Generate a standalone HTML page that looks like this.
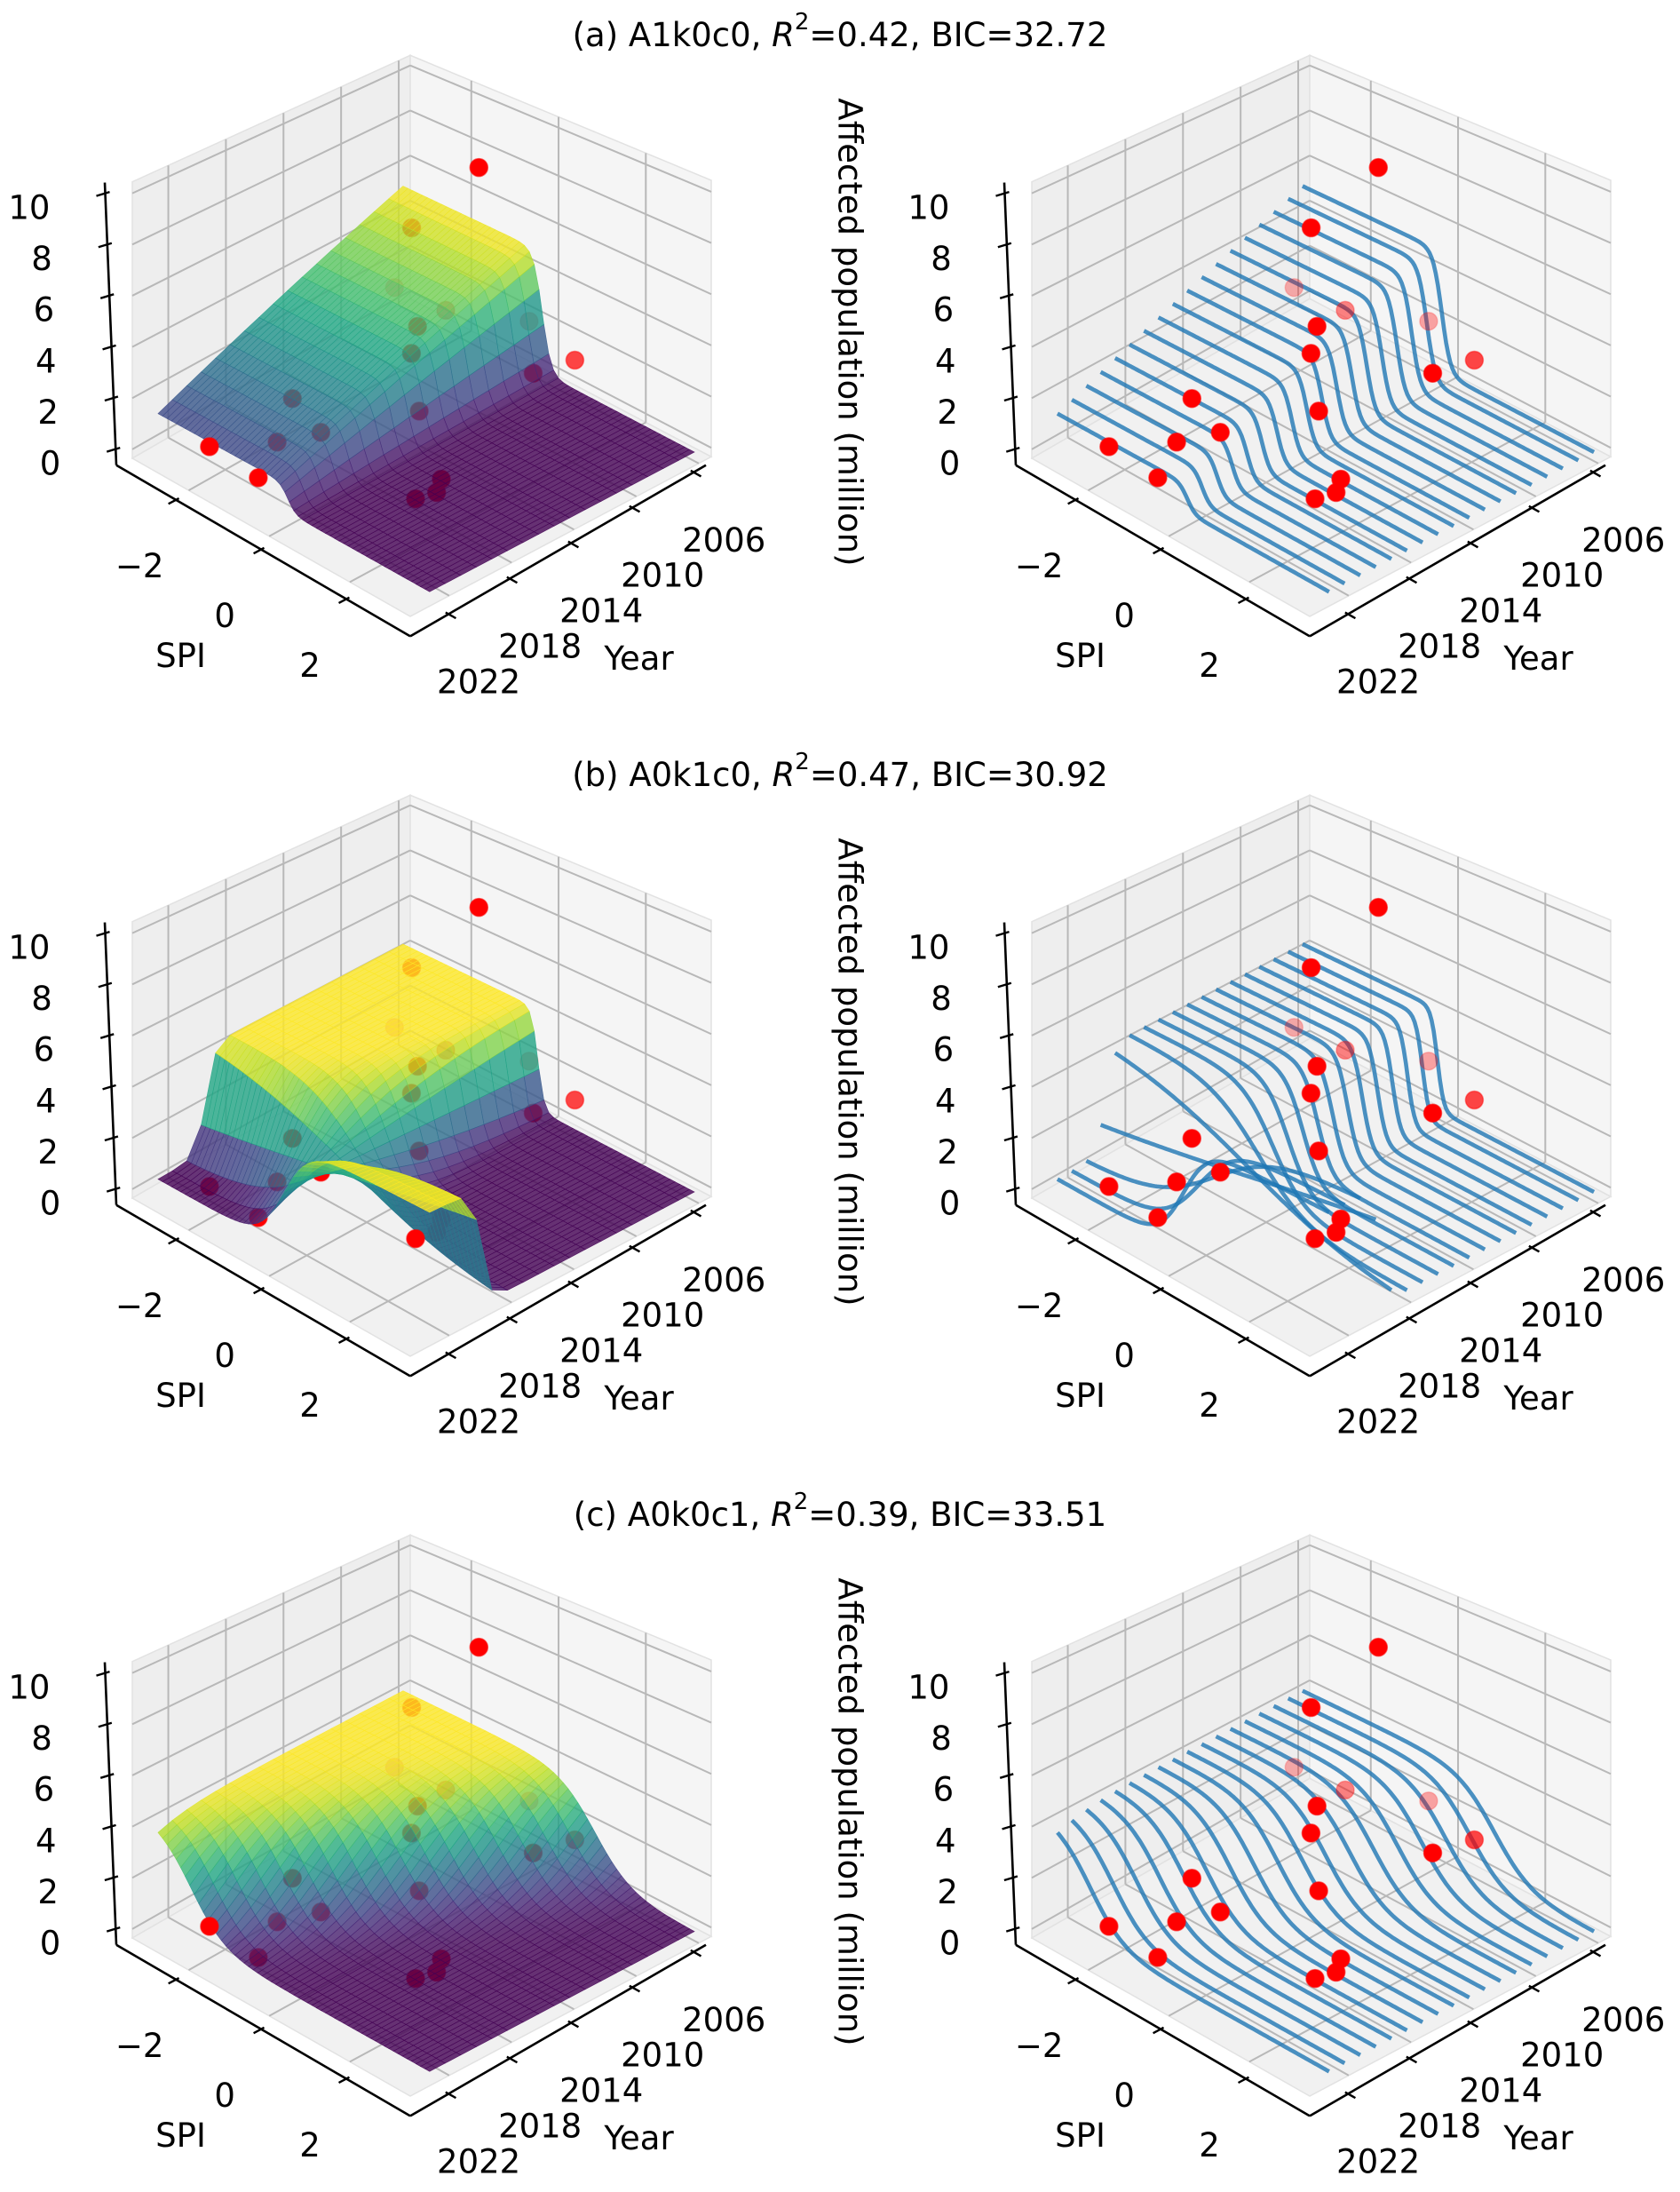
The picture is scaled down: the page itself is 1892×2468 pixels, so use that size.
<!DOCTYPE html>
<html><head><meta charset="utf-8">
<style>
html,body{margin:0;padding:0;background:#fff;}
svg{display:block;}
text{font-family:"DejaVu Sans","Liberation Sans",sans-serif;fill:#000;}
</style></head>
<body>
<svg id="fig" xmlns="http://www.w3.org/2000/svg" width="1892" height="2468" viewBox="0 0 1892 2468">
<rect width="1892" height="2468" fill="#ffffff"/>
</svg>
<script>
// ---------------- data ----------------
const years=[2006,2007,2008,2009,2010,2011,2012,2013,2014,2015,2016,2017,2018,2019,2020,2021,2022,2023];
const obsSPI=[-0.40,1.00,-2.83,-1.30,1.09,0.17,-1.06,-0.57,-0.36,0.18,1.07,1.32,1.18,-0.75,-1.08,-1.09,-1.19,-2.03];
const obsVal=[1.85,1.84,1.69,2.47,2.34,10.07,6.98,3.71,3.12,1.62,0.08,0.10,0.05,1.24,2.57,1.19,0.05,0.83];
// model (a) A1k0c0
const ampA=[5.0,4.77,4.53,4.30,4.06,3.83,3.59,3.36,3.12,2.89,2.65,2.42,2.18,1.95,1.71,1.48,1.24,1.01];
const slopeA=[10,10,10,10,10,10,10,10,10,10,10,10,10,10,10,10,10,10];
const centerA=[-0.1,-0.1,-0.1,-0.1,-0.1,-0.1,-0.1,-0.1,-0.1,-0.1,-0.1,-0.1,-0.1,-0.1,-0.1,-0.1,-0.1,-0.1];
// model (b) A0k1c0
const ampB=[4.2,4.2,4.2,4.2,4.2,4.2,4.2,4.2,4.2,4.2,4.2,4.2,4.2,4.2,4.2,4.2,4.2,4.2];
const slopeB=[13.7,12.7,11.7,10.7,9.7,8.7,7.7,6.7,5.7,4.7,3.7,2.7,1.7,0.7,-0.3,-1.3,-2.3,-3.3];
const centerB=[-0.2,-0.2,-0.2,-0.2,-0.2,-0.2,-0.2,-0.2,-0.2,-0.2,-0.2,-0.2,-0.2,-0.2,-0.2,-0.2,-0.2,-0.2];
// model (c) A0k0c1
const ampC=[3.9,3.9,3.9,3.9,3.9,3.9,3.9,3.9,3.9,3.9,3.9,3.9,3.9,3.9,3.9,3.9,3.9,3.9];
const slopeC=[2.4,2.4,2.4,2.4,2.4,2.4,2.4,2.4,2.4,2.4,2.4,2.4,2.4,2.4,2.4,2.4,2.4,2.4];
const centerC=[1.1,0.89,0.68,0.46,0.25,0.04,-0.17,-0.38,-0.60,-0.81,-1.02,-1.23,-1.44,-1.66,-1.87,-2.08,-2.29,-2.5];
// points drawn above the surface (by year)
const aboveA=[2011,2007,2023,2022];
const aboveB=[2011,2007,2018];
const aboveC=[2011,2023];
const panelTags=["a","b","c"];
const modelNames=["A1k0c0","A0k1c0","A0k0c1"];
const r2Values=["0.42","0.47","0.39"];
const bicValues=["32.72","30.92","33.51"];
const spiTicks=[-2,0,2];
const yearTicks=[2006,2010,2014,2018,2022];
const zTicks=[0,2,4,6,8,10];

// ---------------- projection ----------------
const SPI_MIN=-3.4,SPI_SPAN=6.9,YR_MIN=2005.2,YR_SPAN=19.3,Z_MIN=-0.35,Z_SPAN=10.8;
const SY=0.86,OY0=-4.3;
function ty(oy,v){return oy+SY*v+OY0;}
function projN(ox,oy,u,v,w){
  const t=1-(u+v)/2, H=362*(1.12-0.24*t);
  const x=ox+462+(u-1)*313-(v-1)*339-26*(1-u)*(1-v);
  const y=ty(oy,812+(u-1)*207+(v-1)*209-w*H);
  return [x,y,t-0.6*w];
}
function proj(ox,oy,s,yr,z){
  return projN(ox,oy,(s-SPI_MIN)/SPI_SPAN,(yr-YR_MIN)/YR_SPAN,(z-Z_MIN)/Z_SPAN);
}
const NS="http://www.w3.org/2000/svg";
const svg=document.getElementById("fig");
function mk(tag,attrs,parent){
  const e=document.createElementNS(NS,tag);
  for(const k in attrs)e.setAttribute(k,attrs[k]);
  (parent||svg).appendChild(e);return e;
}
const VIR=["#440154","#482475","#414487","#355f8d","#2a788e","#21918c","#22a884","#44bf70","#7ad151","#bddf26","#fde725"];
function hex2rgb(h){return[parseInt(h.substr(1,2),16),parseInt(h.substr(3,2),16),parseInt(h.substr(5,2),16)];}
const VIRRGB=VIR.map(hex2rgb);
function viridis(f){
  f=Math.max(0,Math.min(1,f));const p=f*10,i=Math.min(9,Math.floor(p)),r=p-i;
  const a=VIRRGB[i],b=VIRRGB[i+1];
  return "rgb("+a.map((c,k)=>Math.round(c+(b[k]-c)*r)).join(",")+")";
}
function curve(A,k,c,s){return A/(1+Math.exp(k*(s-c)));}
function ptAlpha(D){return Math.max(0.3,Math.min(1,1-3*(D-0.42)));}
function pts(a){return a.map(p=>p[0].toFixed(1)+","+p[1].toFixed(1)).join(" ");}

function drawBox(g,ox,oy){
  const P=(u,v,w)=>projN(ox,oy,u,v,w);
  const lw=mk("polygon",{points:pts([P(0,0,0),P(0,1,0),P(0,1,1),P(0,0,1)]),fill:"#eeeeee",stroke:"#e2e2e2","stroke-width":1.5},g);
  
  
  const rw=mk("polygon",{points:pts([P(0,0,0),P(1,0,0),P(1,0,1),P(0,0,1)]),fill:"#f5f5f5",stroke:"#e2e2e2","stroke-width":1.5},g);
  
  
  const fl=mk("polygon",{points:pts([P(0,0,0),P(1,0,0),P(1,1,0),P(0,1,0)]),fill:"#f1f1f1",stroke:"#e2e2e2","stroke-width":1.5},g);
  
  
  const gs={stroke:"#b8b8b8","stroke-width":2,fill:"none"};
  function gl(a,b,name){const l=mk("line",Object.assign({x1:a[0],y1:a[1],x2:b[0],y2:b[1]},gs),g);
    
    }
  spiTicks.forEach(s=>{const u=(s-SPI_MIN)/SPI_SPAN;
    gl(P(u,0,0),P(u,1,0),"floor-grid-spi");gl(P(u,0,0),P(u,0,1),"wall-grid-spi");});
  yearTicks.forEach(y=>{const v=(y-YR_MIN)/YR_SPAN;
    gl(P(0,v,0),P(1,v,0),"floor-grid-year");gl(P(0,v,0),P(0,v,1),"wall-grid-year");});
  zTicks.forEach(z=>{const w=(z-Z_MIN)/Z_SPAN;
    gl(P(0,0,w),P(0,1,w),"wall-grid-z");gl(P(0,0,w),P(1,0,w),"wall-grid-z");});
}
function drawAxes(g,ox,oy,withZLabel){
  const S0=[ox+131,ty(oy,614)],S1=[ox+462,ty(oy,838)],Y1=[ox+795,ty(oy,614)],Zt=[ox+118,ty(oy,244)];
  const ax={stroke:"#000","stroke-width":2.6,fill:"none"};
  const sp1=mk("line",Object.assign({x1:S0[0],y1:S0[1],x2:S1[0],y2:S1[1]},ax),g);
  
  
  const sp2=mk("line",Object.assign({x1:S1[0],y1:S1[1],x2:Y1[0],y2:Y1[1]},ax),g);
  
  
  const sp3=mk("line",Object.assign({x1:S0[0],y1:S0[1],x2:Zt[0],y2:Zt[1]},ax),g);
  
  
  const lab=(x,y,txt,name,anchor)=>{const t=mk("text",{x:x,y:y,"font-size":37,"text-anchor":anchor||"middle","dominant-baseline":"central"},g);t.textContent=txt;
    
    return t;};
  const tk=(p,d,a,b,name)=>{const l=mk("line",{x1:p[0]+d[0]*a,y1:p[1]+d[1]*a,x2:p[0]-d[0]*b,y2:p[1]-d[1]*b,stroke:"#000","stroke-width":2.4},g);
    
    };
  spiTicks.forEach(s=>{const f=(s-SPI_MIN)/SPI_SPAN;
    const p=[S0[0]+f*(S1[0]-S0[0]),S0[1]+f*(S1[1]-S0[1])];
    tk(p,[-0.85,0.45],10,4,"spi-tick");
    lab(p[0]-41,p[1]+87*SY,(s<0?"\u2212":"")+Math.abs(s),"spi-tick-label");});
  yearTicks.forEach(y=>{const f=(YR_MIN+YR_SPAN-y)/YR_SPAN;
    const p=[S1[0]+f*(Y1[0]-S1[0]),S1[1]+f*(Y1[1]-S1[1])];
    tk(p,[0.83,0.47],10,4,"year-tick");
    lab(p[0]+34,p[1]+89*SY,String(y),"year-tick-label");});
  zTicks.forEach(z=>{const f=(z+0.63)/11.05;
    const p=[S0[0]+f*(Zt[0]-S0[0]),S0[1]+f*(Zt[1]-S0[1])];
    tk(p,[-1,0.3],10,5,"z-tick");
    lab(p[0]-62,p[1]+19*SY,String(z),"z-tick-label","end");});
  lab(S0[0]+0.5*(S1[0]-S0[0])-93,S0[1]+0.5*(S1[1]-S0[1])+138*SY,"SPI","spi-axis-title");
  lab(S1[0]+0.5*(Y1[0]-S1[0])+91,S1[1]+0.5*(Y1[1]-S1[1])+141*SY,"Year","year-axis-title");
  if(withZLabel){
    const t=mk("text",{x:0,y:0,"font-size":37,"text-anchor":"middle","dominant-baseline":"central",transform:"translate("+(ox-56)+","+(oy+374)+") rotate(90)"},g);
    t.textContent="Affected population (million)";
    
    
  }
}
function drawPoint(g,ox,oy,i){
  const p=proj(ox,oy,obsSPI[i],years[i],obsVal[i]);
  const c=mk("circle",{cx:p[0].toFixed(1),cy:p[1].toFixed(1),r:10,fill:"#ff0000","fill-opacity":ptAlpha(p[2]).toFixed(2),stroke:"#ff0000","stroke-opacity":(ptAlpha(p[2])*0.6).toFixed(2),"stroke-width":1.5},g);
  
  
}
const sGrid=[];for(let j=0;j<=60;j++)sGrid.push(-3.3+6.7*j/60);
function drawSurface(g,ox,oy,amp,slope,center){
  const Z=years.map((y,i)=>sGrid.map(s=>curve(amp[i],slope[i],center[i],s)));
  let zmin=Infinity,zmax=-Infinity;Z.forEach(r=>r.forEach(v=>{zmin=Math.min(zmin,v);zmax=Math.max(zmax,v);}));
  const quads=[];
  for(let i=0;i<years.length-1;i++)for(let j=0;j<sGrid.length-1;j++){
    const a=proj(ox,oy,sGrid[j],years[i],Z[i][j]),b=proj(ox,oy,sGrid[j+1],years[i],Z[i][j+1]),
          c=proj(ox,oy,sGrid[j+1],years[i+1],Z[i+1][j+1]),d=proj(ox,oy,sGrid[j],years[i+1],Z[i+1][j]);
    const zavg=(Z[i][j]+Z[i][j+1]+Z[i+1][j+1]+Z[i+1][j])/4;
    quads.push({p:[a,b,c,d],D:(a[2]+b[2]+c[2]+d[2])/4,col:viridis((zavg-zmin)/(zmax-zmin||1))});
  }
  quads.sort((q1,q2)=>q2.D-q1.D);
  const sg=mk("g",{"fill-opacity":0.8},g);
  
  
  quads.forEach(q=>{const e=mk("polygon",{points:pts(q.p),fill:q.col,stroke:q.col,"stroke-width":0.6,"stroke-opacity":0.8},sg);
    
    });
}
function drawLines(g,ox,oy,amp,slope,center){
  const lg=mk("g",{},g);
  
  
  years.forEach((y,i)=>{
    const arr=[];for(let j=0;j<=140;j++){const s=-3.3+6.7*j/140;arr.push(proj(ox,oy,s,y,curve(amp[i],slope[i],center[i],s)));}
    const pl=mk("polyline",{points:pts(arr),fill:"none",stroke:"#1f77b4","stroke-opacity":0.8,"stroke-width":4.6,"stroke-linejoin":"round"},lg);
    
    
  });
}
const models=[[ampA,slopeA,centerA,aboveA],[ampB,slopeB,centerB,aboveB],[ampC,slopeC,centerC,aboveC]];
const ROW=833,DX=1013;
models.forEach((m,r)=>{
  const oy=r*ROW;
  const row=mk("g",{});
  
  
  const title=mk("text",{x:946,y:oy+39,"font-size":37,"text-anchor":"middle","dominant-baseline":"central"},row);
  
  
  const t1=mk("tspan",{},title);t1.textContent="("+panelTags[r]+") "+modelNames[r]+", ";
  const t2=mk("tspan",{"font-style":"italic"},title);t2.textContent="R";
  const t3=mk("tspan",{"font-size":26,dy:-14},title);t3.textContent="2";
  const t4=mk("tspan",{dy:14},title);t4.textContent="="+r2Values[r]+", BIC="+bicValues[r];
  const gl=mk("g",{},row);
  
  
  drawBox(gl,0,oy);
  years.forEach((y,i)=>{if(m[3].indexOf(y)<0)drawPoint(gl,0,oy,i);});
  drawSurface(gl,0,oy,m[0],m[1],m[2]);
  years.forEach((y,i)=>{if(m[3].indexOf(y)>=0)drawPoint(gl,0,oy,i);});
  drawAxes(gl,0,oy,false);
  const gr=mk("g",{},row);
  
  
  drawBox(gr,DX,oy);
  drawLines(gr,DX,oy,m[0],m[1],m[2]);
  years.forEach((y,i)=>drawPoint(gr,DX,oy,i));
  drawAxes(gr,DX,oy,true);
});
</script>
</body></html>
